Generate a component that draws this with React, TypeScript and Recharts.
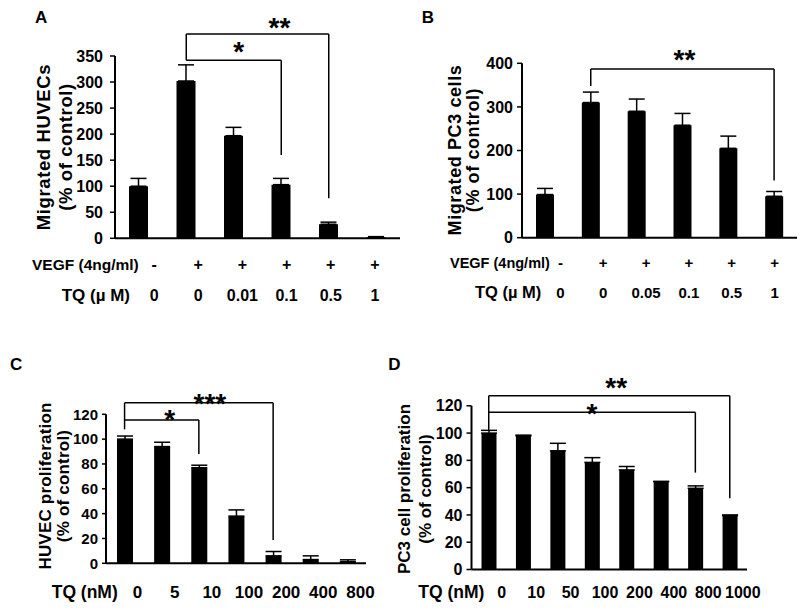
import React from "react";
import { BarChart, Bar, XAxis, YAxis, ErrorBar, ReferenceLine } from "recharts";

const FONT = "'Liberation Sans', Arial, Helvetica, sans-serif";

// A: HUVEC migration
const aVegf = ["-", "+", "+", "+", "+", "+"];
const aTq = ["0", "0", "0.01", "0.1", "0.5", "1"];
const aMigrated = [100, 302, 197, 103, 27, 2];
const aMigratedErr = [15, 31, 16, 12, 4, 1.2];
const aTicks = [0, 50, 100, 150, 200, 250, 300, 350];

// B: PC3 migration
const bVegf = ["-", "+", "+", "+", "+", "+"];
const bTq = ["0", "0", "0.05", "0.1", "0.5", "1"];
const bMigrated = [99, 310, 290, 258, 205, 95];
const bMigratedErr = [14, 24, 28, 27, 28, 11];
const bTicks = [0, 100, 200, 300, 400];

// C: HUVEC proliferation
const cTq = ["0", "5", "10", "100", "200", "400", "800"];
const cProlif = [100, 94, 77, 38, 6, 3, 1.3];
const cProlifErr = [2.5, 3.5, 2, 5, 3.5, 3, 1.5];
const cTicks = [0, 20, 40, 60, 80, 100, 120];

// D: PC3 proliferation
const dTq = ["0", "10", "50", "100", "200", "400", "800", "1000"];
const dProlif = [100, 98, 87, 78.5, 73, 64.5, 59.5, 39.5];
const dProlifErr = [2, 0.5, 5.5, 3.5, 2.5, 0, 1.8, 0.5];
const dTicks = [0, 20, 40, 60, 80, 100, 120];

// significance brackets (bar indexes, heights in data units)
type Bracket = {
  from: number;
  to: number;
  top: number;
  leftEnd?: number;
  rightEnd: number;
  stars: string;
  starDx: number;
  starDy: number;
};

const aBrackets: Bracket[] = [
  { from: 1, to: 4, top: 392, leftEnd: 342, rightEnd: 77, stars: "**", starDx: 22, starDy: 13.5 },
  { from: 1, to: 3, top: 342, rightEnd: 160, stars: "*", starDx: 5, starDy: 15 },
];
const bBrackets: Bracket[] = [
  { from: 1, to: 5, top: 387, leftEnd: 348, rightEnd: 131, stars: "**", starDx: 2, starDy: 16 },
];
const cBrackets: Bracket[] = [
  { from: 0, to: 4, top: 129.3, leftEnd: 107.9, rightEnd: 18.8, stars: "***", starDx: 11, starDy: 5.5 },
  { from: 0, to: 2, top: 115.4, rightEnd: 88, stars: "*", starDx: 8, starDy: 6.5 },
];
const dBrackets: Bracket[] = [
  { from: 0, to: 7, top: 127.4, leftEnd: 102.3, rightEnd: 52.2, stars: "**", starDx: 7, starDy: 14.7 },
  { from: 0, to: 6, top: 115.2, rightEnd: 71, stars: "*", starDx: 0, starDy: 5.6 },
];

interface Row {
  labels: string[];
  dy: number;
}

interface PanelProps {
  keys: string[];
  values: number[];
  errors: number[];
  ticks: number[];
  rows: Row[];
  plot: { left: number; right: number; top: number; bottom: number };
  barSize: number;
  labelPad: { left: number; right: number };
  labelShift: number;
  rowFont: number;
  tickFont: number;
  tickSize: number;
  tickMargin: number;
  yTitle: [string, string];
  yTitleFont: number;
  yTitleSpacing: number;
  yTitlePos: { x1: number; x2: number; y: number };
  brackets: Bracket[];
}

const RowTick = (props: any) => {
  const { x, y, payload, rows, shift, size } = props;
  const i = props.index ?? payload.index;
  return (
    <g>
      {rows.map((r: Row, k: number) => (
        <text
          key={k}
          x={x + shift}
          y={y + r.dy}
          textAnchor="middle"
          fontSize={size}
          fontWeight={700}
          fontFamily={FONT}
          fill="#000"
        >
          {r.labels[i]}
        </text>
      ))}
    </g>
  );
};

const STAR_SIZE = 28;

const starLabel = (b: Bracket) => (props: any) => {
  const vb = props.viewBox;
  if (!vb) return null;
  return (
    <text
      x={vb.x + vb.width / 2 + b.starDx}
      y={vb.y - b.starDy + 0.57 * STAR_SIZE}
      textAnchor="middle"
      fontSize={STAR_SIZE}
      fontWeight={700}
      fontFamily={FONT}
      fill="#000"
    >
      {b.stars}
    </text>
  );
};

function Panel(p: PanelProps) {
  const data = p.keys.map((key, i) => ({ key, value: p.values[i], err: [0, p.errors[i]] }));
  const axisH = 30;
  const yw = 60;
  const margin = {
    top: p.plot.top,
    right: 800 - p.plot.right,
    bottom: 610 - p.plot.bottom - axisH,
    left: p.plot.left - yw,
  };
  const line = { stroke: "#000", strokeWidth: 1.5, ifOverflow: "visible" as const, xAxisId: "bars" };
  const { x1, x2, y } = p.yTitlePos;
  const titleStyle = {
    textAnchor: "middle" as const,
    dominantBaseline: "central" as const,
    fontSize: p.yTitleFont,
    fontWeight: 700,
    fontFamily: FONT,
    fill: "#000",
    letterSpacing: p.yTitleSpacing,
  };

  return (
    <div style={{ position: "absolute", left: 0, top: 0 }}>
      <BarChart width={800} height={610} data={data} margin={margin}>
        <XAxis xAxisId="bars" dataKey="key" hide height={0} />
        <XAxis
          xAxisId="labels"
          dataKey="key"
          height={axisH}
          padding={p.labelPad}
          axisLine={{ stroke: "#000", strokeWidth: 2 }}
          tickLine={false}
          tickSize={0}
          tickMargin={0}
          interval={0}
          tick={<RowTick rows={p.rows} shift={p.labelShift} size={p.rowFont} />}
        />
        <YAxis
          width={yw}
          type="number"
          domain={[0, p.ticks[p.ticks.length - 1]]}
          ticks={p.ticks}
          interval={0}
          axisLine={{ stroke: "#000", strokeWidth: 2 }}
          tickLine={{ stroke: "#000", strokeWidth: 1.5 }}
          tickSize={p.tickSize}
          tickMargin={p.tickMargin}
          tick={{ fill: "#000", fontSize: p.tickFont, fontWeight: 700, fontFamily: FONT }}
          label={() => (
            <g>
              <text transform={`translate(${x1},${y}) rotate(-90)`} {...titleStyle}>
                {p.yTitle[0]}
              </text>
              <text transform={`translate(${x2},${y}) rotate(-90)`} {...titleStyle}>
                {p.yTitle[1]}
              </text>
            </g>
          )}
        />
        <Bar xAxisId="bars" dataKey="value" fill="#000" barSize={p.barSize} isAnimationActive={false}>
          <ErrorBar dataKey="err" direction="y" width={8} stroke="#000" strokeWidth={1.5} isAnimationActive={false} />
        </Bar>
        {p.brackets.flatMap((b, k) => {
          const from = p.keys[b.from];
          const to = p.keys[b.to];
          const els = [
            <ReferenceLine
              key={`h${k}`}
              {...line}
              segment={[{ x: from, y: b.top }, { x: to, y: b.top }]}
              label={starLabel(b)}
            />,
            <ReferenceLine key={`r${k}`} {...line} segment={[{ x: to, y: b.top }, { x: to, y: b.rightEnd }]} />,
          ];
          if (b.leftEnd !== undefined) {
            els.push(
              <ReferenceLine key={`l${k}`} {...line} segment={[{ x: from, y: b.top }, { x: from, y: b.leftEnd }]} />
            );
          }
          return els;
        })}
      </BarChart>
    </div>
  );
}

const txt = (size: number) => ({ fontSize: size, fontWeight: 700, fontFamily: FONT, fill: "#000" });

export default function App() {
  return (
    <div style={{ position: "absolute", left: 0, top: 0, width: 800, height: 610, background: "#fff" }}>
      <Panel
        keys={aTq.map((t, i) => aVegf[i] + t)}
        values={aMigrated}
        errors={aMigratedErr}
        ticks={aTicks}
        rows={[
          { labels: aVegf, dy: 31.7 },
          { labels: aTq, dy: 62.7 },
        ]}
        plot={{ left: 115, right: 400, top: 56, bottom: 238.3 }}
        barSize={19}
        labelPad={{ left: 17, right: 3 }}
        labelShift={0}
        rowFont={16}
        tickFont={16}
        tickSize={5}
        tickMargin={7}
        yTitle={["Migrated HUVECs", "(% of control)"]}
        yTitleFont={18.5}
        yTitleSpacing={0.6}
        yTitlePos={{ x1: 43, x2: 65, y: 147 }}
        brackets={aBrackets}
      />
      <Panel
        keys={bTq.map((t, i) => bVegf[i] + t)}
        values={bMigrated}
        errors={bMigratedErr}
        ticks={bTicks}
        rows={[
          { labels: bVegf, dy: 30.3 },
          { labels: bTq, dy: 60.3 },
        ]}
        plot={{ left: 522, right: 797, top: 63.3, bottom: 237.7 }}
        barSize={18}
        labelPad={{ left: 17, right: 1 }}
        labelShift={0}
        rowFont={15}
        tickFont={16}
        tickSize={5}
        tickMargin={4}
        yTitle={["Migrated PC3 cells", "(% of control)"]}
        yTitleFont={18}
        yTitleSpacing={0.6}
        yTitlePos={{ x1: 455, x2: 473, y: 150 }}
        brackets={bBrackets}
      />
      <Panel
        keys={cTq}
        values={cProlif}
        errors={cProlifErr}
        ticks={cTicks}
        rows={[{ labels: cTq, dy: 34.7 }]}
        plot={{ left: 106, right: 366, top: 414.3, bottom: 563.3 }}
        barSize={16}
        labelPad={{ left: 0, right: 0 }}
        labelShift={13}
        rowFont={17}
        tickFont={15}
        tickSize={4}
        tickMargin={4}
        yTitle={["HUVEC proliferation", "(% of control)"]}
        yTitleFont={17}
        yTitleSpacing={0.2}
        yTitlePos={{ x1: 45, x2: 63, y: 486 }}
        brackets={cBrackets}
      />
      <Panel
        keys={dTq}
        values={dProlif}
        errors={dProlifErr}
        ticks={dTicks}
        rows={[{ labels: dTq, dy: 28.5 }]}
        plot={{ left: 471.5, right: 747, top: 405.8, bottom: 569.5 }}
        barSize={15}
        labelPad={{ left: 0, right: 0 }}
        labelShift={13}
        rowFont={16}
        tickFont={16}
        tickSize={5}
        tickMargin={4}
        yTitle={["PC3 cell proliferation", "(% of control)"]}
        yTitleFont={17}
        yTitleSpacing={0}
        yTitlePos={{ x1: 404, x2: 425, y: 489 }}
        brackets={dBrackets}
      />
      <svg
        width={800}
        height={610}
        style={{ position: "absolute", left: 0, top: 0, pointerEvents: "none" }}
      >
        <text x={35} y={23.3} {...txt(17)}>A</text>
        <text x={421.7} y={23.3} {...txt(17)}>B</text>
        <text x={10} y={370} {...txt(17)}>C</text>
        <text x={388.3} y={370} {...txt(17)}>D</text>
        <text x={32} y={270} {...txt(15.5)}>VEGF (4ng/ml)</text>
        <text x={61.7} y={301} {...txt(17)}>TQ (µ M)</text>
        <text x={450} y={268} {...txt(14.5)}>VEGF (4ng/ml)</text>
        <text x={475} y={298} {...txt(16.5)}>TQ (µ M)</text>
        <text x={51.7} y={598} {...txt(17.5)}>TQ (nM)</text>
        <text x={418.3} y={598} {...txt(17.5)}>TQ (nM)</text>
      </svg>
    </div>
  );
}
